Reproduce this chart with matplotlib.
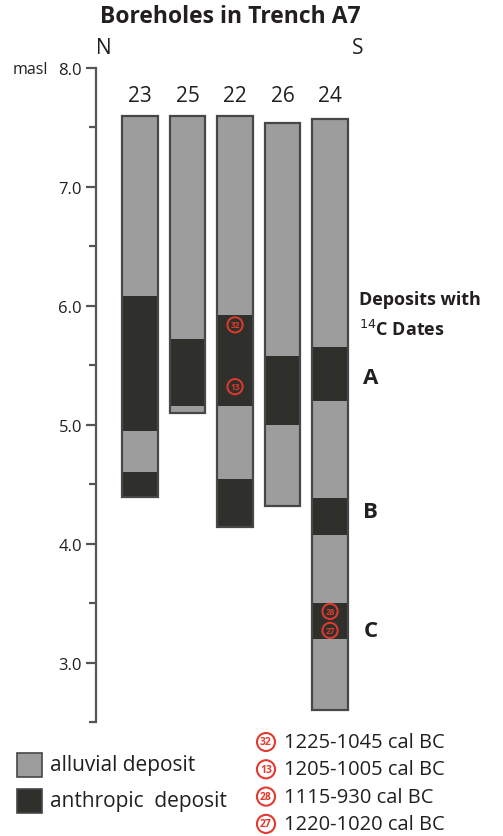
import matplotlib.pyplot as plt
from matplotlib.patches import Rectangle
from matplotlib.ticker import MultipleLocator

plt.rcParams['font.family'] = ['Open Sans', 'DejaVu Sans']

# --- data ---
holes = ["23", "25", "22", "26", "24"]
# layer boundaries from top to bottom (masl)
bounds = [
    [7.60, 6.08, 4.95, 4.60, 4.39],
    [7.60, 5.72, 5.16, 5.10],
    [7.60, 5.92, 5.16, 4.54, 4.14],
    [7.54, 5.58, 5.00, 4.32],
    [7.57, 5.65, 5.20, 4.38, 4.07, 3.50, 3.20, 2.60],
]
# a = alluvial, h = anthropic
layers = [
    ["a", "h", "a", "h"],
    ["a", "h", "a"],
    ["a", "h", "a", "h"],
    ["a", "h", "a"],
    ["a", "h", "a", "h", "a", "h", "a"],
]
sample_ids = ["32", "13", "28", "27"]
sample_hole = [2, 2, 4, 4]
sample_masl = [5.84, 5.32, 3.43, 3.27]
sample_dates = ["1225-1045 cal BC", "1205-1005 cal BC", "1115-930 cal BC", "1220-1020 cal BC"]
deposit_names = ["A", "B", "C"]
deposit_masl = [5.40, 4.27, 3.27]

GRAY = "#9c9d9c"
DARK = "#2f302c"
EDGE = "#474747"
RED = "#e23a2e"
TXT = "#231f20"
colors = {"a": GRAY, "h": DARK}

W, H = 503, 837
fig = plt.figure(figsize=(W / 100, H / 100), dpi=100)

def fx(px):
    return px / W

def fy(py):
    return 1 - py / H

# axes: left spine at x=96px, 8.0 at y=69px, 2.5 at y=723px
ax = fig.add_axes([fx(96), fy(723), 1 - fx(96), fy(69) - fy(723)])
ax.set_ylim(2.5, 8.0)
ax.set_xlim(-0.926, 7.64)
for s in ["top", "right", "bottom"]:
    ax.spines[s].set_visible(False)
ax.spines["left"].set_color("#555555")
ax.spines["left"].set_linewidth(1.6)
ax.set_xticks([])
ax.yaxis.set_minor_locator(MultipleLocator(0.5))
ax.set_yticks([3, 4, 5, 6, 7, 8])
ax.set_yticklabels(["3.0", "4.0", "5.0", "6.0", "7.0", "8.0"])
ax.tick_params(axis="y", which="major", length=7, width=1.6, color="#555555",
               labelsize=12, labelcolor=TXT, pad=3)
ax.tick_params(axis="y", which="minor", length=5, width=1.6, color="#555555")

bw = 0.74
for i, (b, lay) in enumerate(zip(bounds, layers)):
    for top, bot, kind in zip(b[:-1], b[1:], lay):
        ax.bar(i, top - bot, bottom=bot, width=bw, color=colors[kind], linewidth=0)
    ax.bar(i, b[0] - b[-1], bottom=b[-1], width=bw, fill=False,
           edgecolor=EDGE, linewidth=1.6)
    ax.text(i, 7.77, holes[i], ha="center", va="center", fontsize=15, color=TXT)

# dated samples inside the boreholes
ax.scatter(sample_hole, sample_masl, s=120, facecolors="none", edgecolors=RED,
           linewidths=1.4, zorder=5)
for h, m, sid in zip(sample_hole, sample_masl, sample_ids):
    ax.text(h, m, sid, ha="center", va="center", fontsize=6, color=RED,
            fontweight="bold", zorder=6)

# deposit letters
for name, m in zip(deposit_names, deposit_masl):
    ax.text(4.85, m, name, ha="center", va="center", fontsize=16,
            fontweight="bold", color=TXT)

fig.text(fx(359), fy(300), "Deposits with", ha="left", va="center",
         fontsize=13, fontweight="bold", color=TXT)
fig.text(fx(359), fy(330), "$^{14}$C Dates", ha="left", va="center",
         fontsize=13, fontweight="bold", color=TXT)

# title and orientation
fig.text(fx(230), fy(17), "Boreholes in Trench A7", ha="center", va="center",
         fontsize=16.5, fontweight="bold", color=TXT)
fig.text(fx(104), fy(48), "N", ha="center", va="center", fontsize=15, color=TXT)
fig.text(fx(358), fy(48), "S", ha="center", va="center", fontsize=15, color=TXT)
fig.text(fx(48), fy(70), "masl", ha="right", va="center", fontsize=11.5, color=TXT)

# legend for deposit types
for y0, kind, label in [(754, "a", "alluvial deposit"), (790, "h", "anthropic  deposit")]:
    fig.patches.append(Rectangle((fx(17), fy(y0 + 24)), fx(25), 24 / H,
                                 transform=fig.transFigure, facecolor=colors[kind],
                                 edgecolor=EDGE, linewidth=1.2))
    fig.text(fx(50), fy(y0 + 12), label, ha="left", va="center", fontsize=15,
             color=TXT)

# legend for radiocarbon dates
for k, (sid, d) in enumerate(zip(sample_ids, sample_dates)):
    yy = 743 + k * 27.3
    fig.text(fx(266), fy(yy), sid, ha="center", va="center", fontsize=7.5,
             color=RED, fontweight="bold",
             bbox=dict(boxstyle="circle,pad=0.3", facecolor="white",
                       edgecolor=RED, linewidth=1.5))
    fig.text(fx(284), fy(yy), d, ha="left", va="center", fontsize=14.5, color=TXT)

fig.savefig("out.png", dpi=100)
